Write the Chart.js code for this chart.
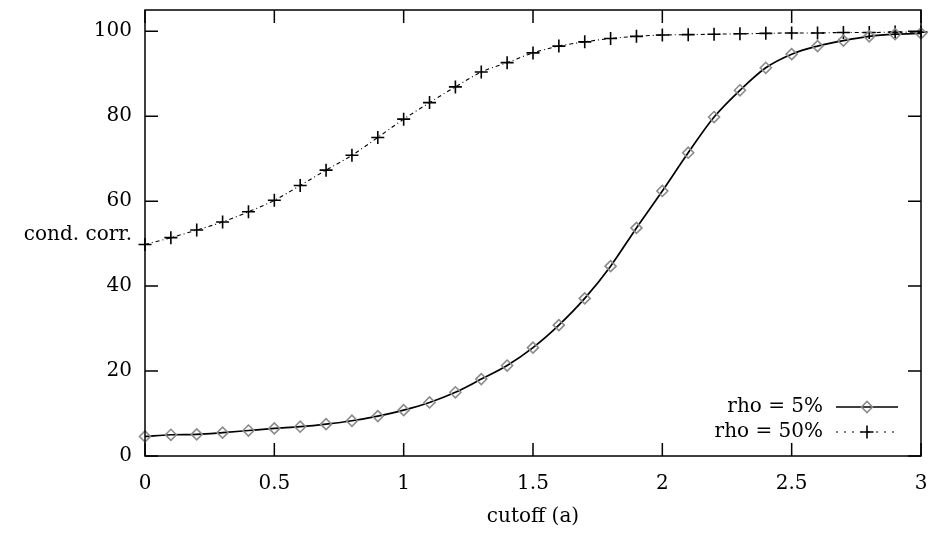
<!DOCTYPE html>
<html>
<head>
<meta charset="utf-8">
<script src="https://cdn.jsdelivr.net/npm/chart.js@4"></script>
<style>
html,body{margin:0;padding:0;background:#fff;}
#wrap{width:930px;height:536px;}
</style>
</head>
<body>
<div id="wrap"><canvas id="c" width="930" height="536"></canvas></div>
<script>
const cutoff = [0,0.1,0.2,0.3,0.4,0.5,0.6,0.7,0.8,0.9,1.0,1.1,1.2,1.3,1.4,1.5,1.6,1.7,1.8,1.9,2.0,2.1,2.2,2.3,2.4,2.5,2.6,2.7,2.8,2.9,3.0];
const rho5 = [4.6,5.0,5.1,5.5,6.0,6.5,6.9,7.5,8.3,9.4,10.8,12.6,15.0,18.1,21.3,25.5,30.8,37.1,44.7,53.7,62.4,71.4,79.8,86.1,91.4,94.6,96.5,97.8,98.8,99.3,99.5];
const rho50 = [49.8,51.4,53.2,55.1,57.5,60.2,63.7,67.3,70.8,75.0,79.3,83.2,86.9,90.4,92.6,94.9,96.5,97.5,98.3,98.8,99.1,99.2,99.3,99.4,99.5,99.6,99.6,99.7,99.7,99.8,99.8];
const xTicks = [0,0.5,1,1.5,2,2.5,3];
const yTicks = [0,20,40,60,80,100];
const seriesNames = ['rho = 5%','rho = 50%'];
const yTitle = 'cond. corr.';
const xTitle = 'cutoff (a)';

const FONT = 'DejaVu Serif';
const INK = '#000';
const DIAMOND = '#8a8a8a';

const frame = {
  id: 'frame',
  afterDraw(chart) {
    const {ctx, chartArea: a, scales: {x, y}} = chart;
    ctx.save();
    ctx.strokeStyle = INK;
    ctx.lineWidth = 1.5;
    ctx.strokeRect(a.left, a.top, a.right - a.left, a.bottom - a.top);
    ctx.beginPath();
    const T = 13;
    yTicks.forEach(v => {
      const p = y.getPixelForValue(v);
      ctx.moveTo(a.left, p); ctx.lineTo(a.left + T, p);
      ctx.moveTo(a.right, p); ctx.lineTo(a.right - T, p);
    });
    xTicks.forEach(v => {
      const p = x.getPixelForValue(v);
      ctx.moveTo(p, a.bottom); ctx.lineTo(p, a.bottom - T);
      ctx.moveTo(p, a.top); ctx.lineTo(p, a.top + T);
    });
    ctx.stroke();
    // horizontal y title
    ctx.fillStyle = INK;
    ctx.font = '20px "' + FONT + '"';
    ctx.textAlign = 'right';
    ctx.textBaseline = 'middle';
    ctx.fillText(yTitle, a.left - 13, y.getPixelForValue(52));
    // legend
    const lx0 = a.right - 85, lx1 = a.right - 23, mx = (lx0 + lx1) / 2;
    const ly = [a.bottom - 49, a.bottom - 24];
    ctx.fillText(seriesNames[0], lx0 - 13, ly[0]);
    ctx.fillText(seriesNames[1], lx0 - 13, ly[1]);
    ctx.lineWidth = 1.5;
    ctx.strokeStyle = INK;
    ctx.setLineDash([]);
    ctx.beginPath(); ctx.moveTo(lx0, ly[0]); ctx.lineTo(lx1, ly[0]); ctx.stroke();
    ctx.lineWidth = 1.2;
    ctx.setLineDash([2, 6]);
    ctx.beginPath(); ctx.moveTo(lx0, ly[1]); ctx.lineTo(lx1, ly[1]); ctx.stroke();
    ctx.setLineDash([]);
    ctx.strokeStyle = DIAMOND; ctx.fillStyle = 'rgba(0,0,0,0)';
    ctx.lineWidth = 1.6;
    Chart.helpers.drawPoint(ctx, {pointStyle: 'rectRot', radius: 5.5, rotation: 0, borderWidth: 1.6}, mx, ly[0]);
    ctx.strokeStyle = INK;
    Chart.helpers.drawPoint(ctx, {pointStyle: 'cross', radius: 6.5, rotation: 0, borderWidth: 1.6}, mx, ly[1]);
    ctx.restore();
  }
};

new Chart(document.getElementById('c'), {
  type: 'line',
  data: {
    datasets: [
      {
        label: seriesNames[0],
        data: cutoff.map((v, i) => ({x: v, y: rho5[i]})),
        borderColor: INK,
        borderWidth: 1.7,
        cubicInterpolationMode: 'monotone',
        pointStyle: 'rectRot',
        pointRadius: 5.5,
        pointBorderColor: DIAMOND,
        pointBackgroundColor: 'rgba(0,0,0,0)',
        pointBorderWidth: 1.6,
        clip: false
      },
      {
        label: seriesNames[1],
        data: cutoff.map((v, i) => ({x: v, y: rho50[i]})),
        borderColor: INK,
        borderWidth: 1.1,
        borderDash: [4, 3, 1, 3],
        cubicInterpolationMode: 'monotone',
        pointStyle: 'cross',
        pointRadius: 6.5,
        pointBorderColor: INK,
        pointBorderWidth: 1.6,
        clip: false
      }
    ]
  },
  options: {
    responsive: false,
    animation: false,
    devicePixelRatio: 1,
    layout: {padding: {left: 0, top: 10, right: 9, bottom: 0}},
    plugins: {legend: {display: false}, tooltip: {enabled: false}},
    scales: {
      x: {
        type: 'linear', min: 0, max: 3,
        afterBuildTicks: s => { s.ticks = xTicks.map(v => ({value: v})); },
        afterFit: s => { s.height = 80; s.paddingLeft = 0; s.paddingRight = 0; },
        grid: {display: false, drawTicks: false},
        border: {display: false},
        ticks: {color: INK, font: {family: FONT, size: 20}, padding: 16, maxRotation: 0,
                callback: v => String(v)},
        title: {display: true, text: xTitle, color: INK, font: {family: FONT, size: 20}, padding: {top: 0, bottom: 7}}
      },
      y: {
        type: 'linear', min: 0, max: 105,
        afterBuildTicks: s => { s.ticks = yTicks.map(v => ({value: v})); },
        afterFit: s => { s.width = 145; s.paddingTop = 0; s.paddingBottom = 0; },
        grid: {display: false, drawTicks: false},
        border: {display: false},
        ticks: {color: INK, font: {family: FONT, size: 20}, padding: 13, callback: v => String(v)}
      }
    }
  },
  plugins: [frame]
});
</script>
</body>
</html>
